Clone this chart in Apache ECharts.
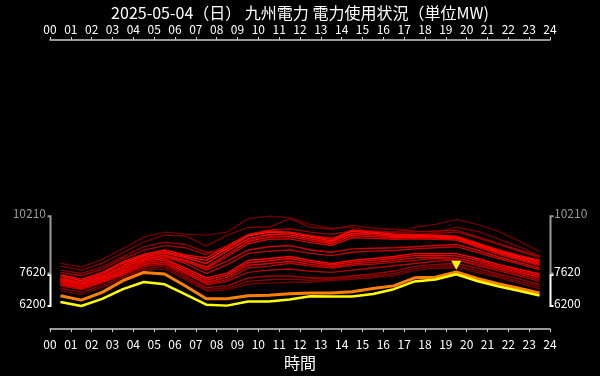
<!DOCTYPE html>
<html>
<head>
<meta charset="utf-8">
<script src="https://cdn.jsdelivr.net/npm/echarts@6/dist/echarts.min.js"></script>
<style>
html,body{margin:0;padding:0;background:#000;}
#chart{width:600px;height:376px;}
</style>
</head>
<body>
<div id="chart"></div>
<script>
const titleText = '2025-05-04（日） 九州電力 電力使用状況（単位MW)';
const axisName = '時間';
const hourLabels = ['00','01','02','03','04','05','06','07','08','09','10','11','12','13','14','15','16','17','18','19','20','21','22','23','24'];
const halfHours = [0.5,1.5,2.5,3.5,4.5,5.5,6.5,7.5,8.5,9.5,10.5,11.5,12.5,13.5,14.5,15.5,16.5,17.5,18.5,19.5,20.5,21.5,22.5,23.5];
const yMarks = [6200, 7620, 10210];

const today     = [6374,6200,6517,6950,7270,7170,6720,6256,6215,6395,6404,6490,6634,6620,6620,6734,6950,7298,7385,7620,7316,7081,6881,6664];
const yesterday = [6656,6460,6808,7328,7697,7632,7090,6525,6525,6656,6677,6742,6777,6777,6838,6981,7098,7459,7489,7719,7428,7198,6994,6777];

const pastR1 = [8110,7936,8283,8761,9282,9499,9412,9369,9499,10106,10210,10150,9846,9672,9716,9499,9499,9716,9846,10063,9846,9542,9108,8630];
const pastR2 = [7980,7806,8110,8587,9065,9369,9325,8891,9369,9716,9716,10106,9716,9629,9802,9672,9629,9542,9499,9716,9542,9195,8848,8413];
const pastD3 = [7800,7650,7950,8400,8850,9050,8950,8600,8700,9150,9350,9500,9350,9250,9400,9450,9350,9380,9450,9500,9250,8950,8650,8350];
const pastD4 = [7700,7550,7850,8300,8700,8900,8800,8500,8900,9400,9600,9650,9500,9400,9550,9550,9500,9500,9550,9580,9300,9000,8700,8400];
const pastU1 = [7545,7328,7632,8110,8457,8630,8413,8240,8761,9325,9498,9455,9281,9108,9542,9455,9368,9368,9325,9281,8978,8674,8413,8196];
const pastU2 = [7450,7250,7550,8020,8380,8560,8350,8100,8650,9200,9400,9380,9200,9050,9450,9380,9300,9300,9280,9230,8930,8620,8350,8120];
const pastU3 = [7380,7180,7480,7950,8300,8480,8250,7950,8500,9080,9280,9300,9120,8980,9350,9300,9250,9260,9240,9200,8880,8570,8300,8060];
const pastU4 = [7600,7400,7700,8180,8520,8700,8480,8350,8850,9380,9550,9500,9330,9180,9600,9500,9420,9400,9360,9320,9020,8720,8460,8240];
const pastU5 = [7300,7100,7380,7850,8200,8400,8180,7880,8400,8980,9180,9200,9030,8900,9250,9220,9180,9200,9180,9150,8830,8520,8250,8000];
const pastB1 = [7400,7200,7500,7900,8300,8450,8200,7800,8200,8700,8850,8900,8700,8600,8750,8780,8800,8850,8900,8950,8700,8400,8150,7900];
const pastB2 = [7350,7150,7450,7850,8250,8400,8100,7650,8050,8550,8650,8700,8550,8450,8600,8650,8680,8750,8800,8850,8600,8320,8080,7820];
const pastM1 = [7320,7110,7410,7800,8230,8320,7890,7450,7670,8230,8320,8410,8230,8100,8230,8320,8410,8540,8540,8540,8320,8060,7840,7630];
const pastM2 = [7250,7050,7350,7730,8150,8240,7800,7350,7580,8130,8220,8320,8150,8030,8160,8240,8330,8450,8460,8440,8240,7990,7770,7550];
const pastM3 = [7180,6990,7290,7650,8060,8150,7720,7260,7480,8020,8100,8200,8060,7950,8080,8150,8240,8350,8380,8330,8150,7920,7700,7470];
const pastM4 = [7120,6940,7240,7590,7980,8070,7640,7200,7380,7900,7980,8110,7980,7890,8020,8070,8160,8240,8330,8240,8070,7850,7640,7380];
const pastML1 = [7200,7000,7300,7680,8080,8150,7700,7150,7300,7700,7800,7850,7750,7700,7800,7900,8000,8100,8200,8250,8000,7780,7550,7300];
const pastL1 = [7100,6930,7240,7580,7970,8060,7540,7020,7100,7450,7540,7540,7450,7450,7540,7630,7760,7970,8060,8100,7890,7630,7410,7150];
const pastL2 = [6980,6820,7120,7480,7880,7960,7450,6940,7000,7300,7370,7400,7350,7390,7450,7540,7650,7870,7980,8000,7780,7540,7300,7050];
const pastL3 = [6880,6720,7030,7400,7810,7860,7380,6870,6920,7180,7220,7260,7260,7340,7390,7470,7560,7780,7900,7910,7690,7470,7220,6960];

const pastDays = [pastR1,pastR2,pastD3,pastD4,pastL3,pastL2,pastL1,pastML1,pastB2,pastB1,pastM4,pastM3,pastM2,pastM1,pastU5,pastU3,pastU2,pastU1,pastU4];
const pastColors = ['#6a0000','#7a0000','#8a0000','#9a0000','#700000','#880000','#a00000','#b00000','#c00000','#d00000','#b80000','#d80000','#ee0000','#ff0000','#d00000','#e80000','#ff0000','#ff1000','#f40000'];

const toPts = arr => arr.map((v,i) => [halfHours[i], v]);

const series = [];
pastDays.forEach((d, i) => {
  series.push({
    type: 'line', data: toPts(d), symbol: 'none', silent: true,
    lineStyle: { color: pastColors[i], width: 1.4 }, z: 2
  });
});
series.push({
  type: 'line', data: toPts(yesterday), symbol: 'none', silent: true,
  lineStyle: { color: '#ff8000', width: 3 }, z: 3
});
series.push({
  type: 'line', data: toPts(today), symbol: 'none', silent: true,
  lineStyle: { color: '#ffff00', width: 2.5 }, z: 4,
  markPoint: {
    symbol: 'triangle', symbolSize: [10, 9], symbolRotate: 180, symbolOffset: [0, -9],
    itemStyle: { color: '#ffff00' }, label: { show: false },
    data: [{ type: 'max' }]
  }
});

// brackets on both sides
const bracketData = [
  [0, yMarks[0], yMarks[1], 0], [0, yMarks[1], yMarks[2], 1],
  [24, yMarks[0], yMarks[1], 0], [24, yMarks[1], yMarks[2], 1]
];
const markColors = ['#ffffff', '#9a9a9a'];
series.push({
  type: 'custom', silent: true, z: 5,
  data: bracketData,
  renderItem: function (params, api) {
    const side = api.value(0);
    const lo = api.coord([side, api.value(1)]);
    const hi = api.coord([side, api.value(2)]);
    const k = api.value(3);
    const dir = side === 0 ? -1 : 1;
    const x = lo[0] + 0.5;
    const yTop = hi[1] + (k === 0 ? 0.8 : 0);
    const yBot = lo[1] - (k === 1 ? 0.8 : 0);
    return {
      type: 'polyline',
      shape: { points: [[x + dir * 3, yTop], [x, yTop], [x, yBot], [x + dir * 3, yBot]] },
      style: { stroke: markColors[k], lineWidth: 2, fill: null }
    };
  }
});
const labelData = [];
[0, 24].forEach(s => yMarks.forEach((v, i) => labelData.push([s, v, i])));
series.push({
  type: 'custom', silent: true, z: 5,
  data: labelData,
  renderItem: function (params, api) {
    const side = api.value(0);
    const p = api.coord([side, api.value(1)]);
    const i = api.value(2);
    return {
      type: 'text',
      style: {
        x: side === 0 ? p[0] - 4 : p[0] + 4,
        y: p[1] - 3,
        text: String(api.value(1)),
        fill: i === 2 ? '#9a9a9a' : '#ffffff',
        font: '12px "Noto Sans CJK JP", "Noto Sans", sans-serif',
        align: side === 0 ? 'right' : 'left',
        verticalAlign: 'middle'
      }
    };
  }
});

const axisCommon = {
  type: 'value', min: 0, max: 24, interval: 1,
  axisLine: { show: true, lineStyle: { color: '#cccccc', width: 1.5 } },
  axisTick: { show: true, length: 3, lineStyle: { color: '#cccccc' } },
  axisLabel: { color: '#ffffff', fontSize: 12, margin: 5, fontFamily: 'Noto Sans CJK JP',
               formatter: v => hourLabels[v] },
  splitLine: { show: false }
};

const chart = echarts.init(document.getElementById('chart'), null, { renderer: 'canvas' });
chart.setOption({
  backgroundColor: '#000000',
  animation: false,
  textStyle: { fontFamily: 'Noto Sans CJK JP' },
  title: {
    text: titleText, left: 'center', top: 0,
    textStyle: { color: '#ffffff', fontSize: 16, fontWeight: 'normal', fontFamily: 'Noto Sans CJK JP' }
  },
  grid: { left: 50, right: 50, top: 40, bottom: 38, containLabel: false },
  xAxis: [
    Object.assign({}, axisCommon, {
      position: 'bottom', name: axisName, nameLocation: 'middle', nameGap: 26,
      axisLabel: Object.assign({}, axisCommon.axisLabel, { margin: 9 }),
      nameTextStyle: { color: '#ffffff', fontSize: 16, fontFamily: 'Noto Sans CJK JP' }
    }),
    Object.assign({}, axisCommon, { position: 'top' })
  ],
  yAxis: { type: 'value', min: 5170, max: 18090, show: false },
  series: series
});
</script>
</body>
</html>
